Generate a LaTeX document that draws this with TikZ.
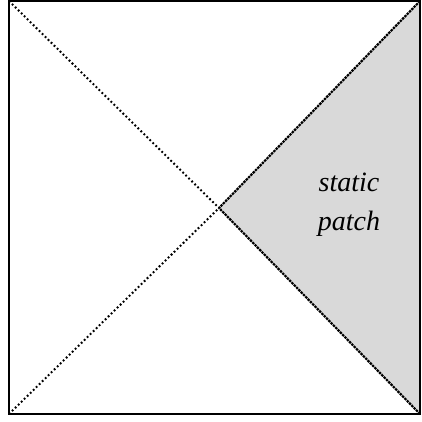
\documentclass[tikz,border=0pt]{standalone}
\usepackage{fontspec}
\setmainfont{Liberation Serif}
\begin{document}
\begin{tikzpicture}[x=1pt,y=-1pt,
  frame/.style={draw=black,line width=2pt},
  sparsedot/.style={draw=black,line width=2pt,dash pattern=on 1.8pt off 2.4pt},
  densedot/.style={draw=black,line width=2.2pt,dash pattern=on 2.4pt off 0.9pt},
  patchfill/.style={fill=patchgray},
  lbl/.style={font=\fontsize{28}{39}\selectfont\itshape,align=center,inner sep=0pt}]
\definecolor{patchgray}{HTML}{D9D9D9}
\useasboundingbox (0,0) rectangle (422,421);
\coordinate (tl) at (9,1);
\coordinate (tr) at (420,1);
\coordinate (br) at (420,414);
\coordinate (bl) at (9,414);
\coordinate (c) at (219,208);
\fill[patchfill] (tr) -- (c) -- (br) -- cycle;
\draw[sparsedot] (tl) -- (c);
\draw[sparsedot] (bl) -- (c);
\draw[densedot] (tr) -- (c);
\draw[densedot] (br) -- (c);
\draw[frame] (tl) rectangle (br);
\node[lbl] (lab) at (349,205) {static\\patch};
\end{tikzpicture}
\end{document}
